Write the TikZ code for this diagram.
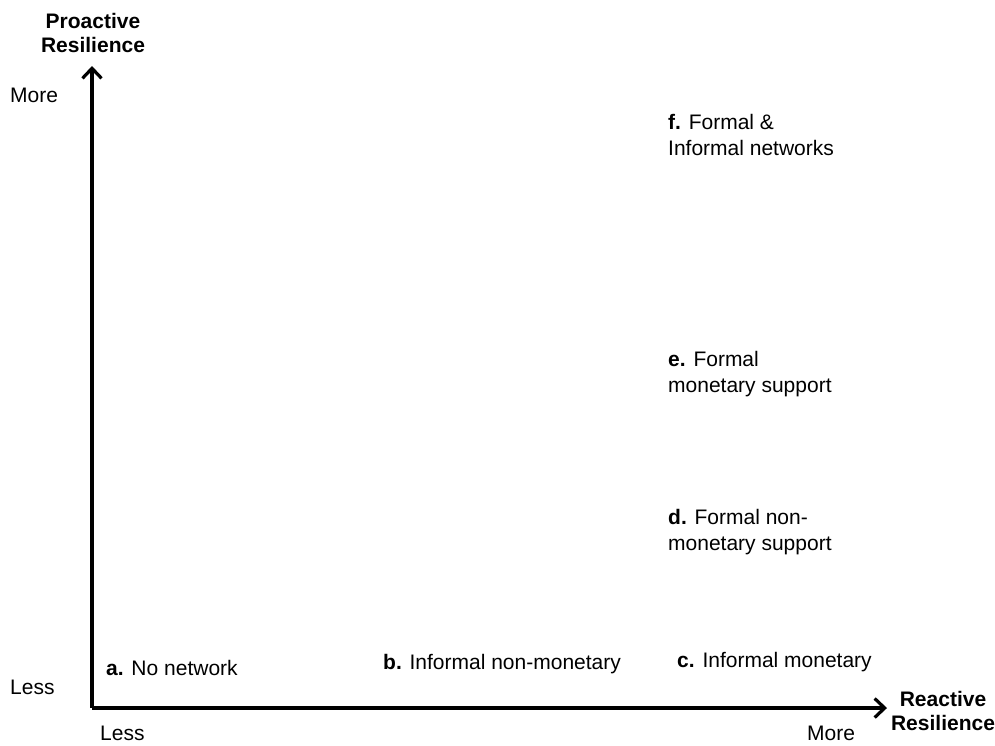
\documentclass[tikz,border=0pt]{standalone}
\usepackage{fontspec}
\setmainfont{Liberation Sans}
\usetikzlibrary{arrows.meta}
\begin{document}
\begin{tikzpicture}[x=1pt,y=-1pt,
  axis/.style={line width=3.6pt,-{Straight Barb[length=10pt,width=19pt,line width=3.2pt]}},
  lbl/.style={anchor=west,inner sep=0pt,font=\fontsize{21}{26}\selectfont,align=left},
  ttl/.style={inner sep=0pt,font=\fontsize{21}{24}\selectfont\bfseries,align=center}]
\useasboundingbox (0,0) rectangle (995,745);
\coordinate (o) at (92,708);
\coordinate (ytop) at (92,66);
\coordinate (xend) at (887,708);
\draw[axis] (o) -- (ytop);
\draw[axis] (o) -- (xend);
\node[ttl] (ytitle) at (93,33) {Proactive\\Resilience};
\node[ttl] (xtitle) at (943,711) {Reactive\\Resilience};
\node[lbl] (ymore) at (10,95) {More};
\node[lbl] (yless) at (10,687) {Less};
\node[lbl] (xless) at (100,733) {Less};
\node[lbl] (xmore) at (807,733) {More};
\node[lbl] (a) at (106,668) {\textbf{a.} No network};
\node[lbl] (b) at (383,664) {\textbf{b.} Informal non-monetary};
\node[lbl] (c) at (677,662) {\textbf{c.} Informal monetary};
\node[lbl] (d) at (668,532) {\textbf{d.} Formal non-\\monetary support};
\node[lbl] (e) at (668,374) {\textbf{e.} Formal\\monetary support};
\node[lbl] (f) at (668,135) {\textbf{f.} Formal \&\\Informal networks};
\end{tikzpicture}
\end{document}
